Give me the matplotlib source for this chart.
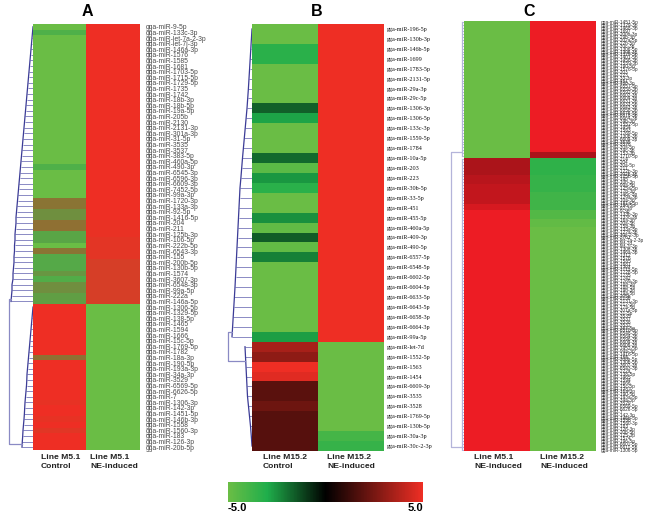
import numpy as np
import matplotlib
matplotlib.use("Agg")
import matplotlib.pyplot as plt
from matplotlib.colors import LinearSegmentedColormap, Normalize
from matplotlib.cm import ScalarMappable

plt.rcParams['font.family'] = ['Liberation Sans', 'DejaVu Sans']

W, H = 648, 516
PREFIX = "gga-miR-"

# Panel A
mirs_a = ["9-5p", "133c-3p", "let-7a-2-3p", "let-7j-3p", "146a-3p", "1576", "1585", "1681", "1703-5p", "1715-5p",
          "1729-5p", "1735", "1742", "18b-3p", "18b-5p", "19a-5p", "205b", "2130", "2131-3p", "301a-3p",
          "31-5p", "3535", "3537", "383-5p", "460a-5p", "490-3p", "6545-3p", "6596-3p", "6609-3p", "7452-5p",
          "99a-3p", "1720-3p", "133a-3p", "92-5p", "1416-5p", "204", "211", "125b-3p", "106-5p", "222b-5p",
          "6543-3p", "155", "200b-5p", "130b-5p", "1574", "3607-3p", "6548-3p", "99a-5p", "222a", "146a-5p",
          "1306-5p", "1329-5p", "138-5p", "1465", "1594", "1666", "15c-5p", "1769-5p", "1782", "18a-3p",
          "190-5p", "193a-3p", "34a-3p", "3529", "6569-5p", "6626-5p", "7", "1306-3p", "142-3p", "1451-5p",
          "146b-3p", "1558", "1560-3p", "183", "126-3p", "20b-5p"]
control_a = [-5, -4] + [-5] * 23 + [-4] + [-5] * 5 + [-1.2, -1.2, -2.5, -2.5, -1, -1, -3.5, -3.5, -5, -1.2,
             -3.7, -3.7, -3.7, -2.8, -3.8, -2.4, -2.4, -3.2, -3.2] + [5] * 9 + [-1] + [5] * 7 + [4.6, 5, 5, 4.6, 5, 4.2, 5, 5, 5]
induced_a = [5] * 35 + [4.7] * 3 + [4.3] * 4 + [3.5] * 8 + [-5] * 26
dend_a_1 = [0, .5, 1, 1.5, 2, 2.5, 3, 3.5, 4, 4.5, 5, 5.5, 6, 6.5, 7, 7.5, 8, 8.5, 9, 9.5, 10, 10.5, 11, 11.5, 12, 12.5,
            13, 13.5, 14, 14.5, 15, 15.5, 16, 16.5, 17, 17, 17.5, 18, 18, 18.5, 18.5, 19, 19, 19.5, 20, 20, 21, 21, 21.5, 22]
dend_a_2 = [0, .5, 1, 1.5, 2, 2.5, 3, 3.5, 4, 4.5, 5, 5.5, 6, 6.2, 6.5, 7, 7.5, 8, 8.3, 8.6, 9, 9.5, 10, 10.3, 10.7, 11]

# Panel B
mirs_b = ["196-5p", "130b-3p", "146b-5p", "1699", "1783-5p", "2131-5p", "29a-3p", "29c-5p", "1306-3p", "1306-5p",
          "133c-3p", "1559-5p", "1784", "10a-5p", "203", "223", "30b-5p", "33-5p", "451", "455-5p",
          "460a-5p", "409-3p", "490-5p", "6557-5p", "6548-5p", "6602-5p", "6604-5p", "6633-5p", "6643-5p", "6658-3p",
          "6664-3p", "99a-5p", "let-7d", "1552-5p", "1563", "1454", "6609-3p", "3535", "3528", "1769-5p",
          "130b-5p", "30a-3p", "30c-2-3p"]
control_b = [-5, -5, -3.3, -3.3, -5, -5, -5, -5, -1.65, -2.85, -5, -5, -5, -1.8, -4.6, -2.6, -3.3, -5, -5, -2.5,
             -4.8, -1.6, -4.8, -2.2] + [-5] * 7 + [-2.7, 3.5, 3, 5, 4.7, 1.9, 1.9, 2.3, 1.8, 1.8, 1.8, 1.8]
induced_b = [5] * 32 + [-5] * 9 + [-4, -3.6]
dend_b_1 = [0, .6, 1.2, 1.8, 2.4, 3, 3.6, 4.3, 5, 5.9, 6.8, 7.7, 8.6, 9.5, 10.3, 11.1, 12, 12.5, 13, 13.5, 14, 14.5,
            15, 15.5, 16, 16.5, 17, 17.6, 18.2, 18.8, 19.4, 20]
dend_b_2 = [7, 6.5, 6, 5.5, 5, 4.5, 3.5, 2.5, 1.5, .7, 0]

# Panel C
mirs_c = ["1451-5p", "1329-3p", "1468-3p", "1697", "200b-3p", "29b-3p", "202a-5p", "22b-5p", "30c-3p", "1306-5p",
          "1306-3p", "1329-5p", "1401-5p", "1456-3p", "1559-3p", "190-5p", "1576-3p", "203", "223", "33-3p",
          "451", "460-3p", "6557-3p", "6558-3p", "6592-5p", "6602-3p", "6604-3p", "6631-3p", "6633-5p", "6643-3p",
          "6658-3p", "6676-5p", "6678-3p", "6664-3p", "34b-3p", "1552-5p", "1454", "1563", "1769-5p", "130b-3p",
          "6609-3p", "3535", "3528", "30a-5p", "34c-3p", "153-3p", "1710-5p",
          "214", "204", "30a-5p", "211", "122b-3p", "202b-3p", "125b-5p", "145", "10b-3p", "99a-5p",
          "125a-5p", "17b-3p", "146c-3p", "129a-3p", "10a-3p", "181a-5p", "196-5p", "92-3p", "9-3p", "133b-3p",
          "133c-3p", "16a-3p", "20a-3p", "15b-3p", "133a-3p", "122a-3p", "30c-2-3p", "3761", "let-7a-2-3p", "let-7d",
          "let-7j-3p", "1306-3p", "146a-3p", "1312", "1576", "1585", "1681", "1703", "1711-5p", "1728-5p",
          "1735", "1742", "1769-3p", "18b-3p", "18b-5p", "19b-3p", "19a-5p", "205b", "2130", "2131-3p",
          "212-5p", "17a-5p", "301a-3p", "31-5p", "3535", "3537", "3538", "3532", "383-5p", "6516-5p",
          "6548-3p", "6564-3p", "6596-3p", "6609-3p", "6606-3p", "7452-5p", "99a-3p",
          "1416-5p", "155", "200b-5p", "130b-5p", "3607-3p", "6543-3p", "222a", "138-5p", "1465", "1594",
          "1666", "15c-5p", "1782", "18a-3p", "190-5p", "193a-3p", "34a-3p", "3529", "6569-5p", "6626-5p",
          "7", "142-3p", "146b-3p", "1558", "1560-3p", "183", "126-3p", "20b-5p",
          "125-3p", "1574", "196-5p", "6601-5p", "6611-5p", "1306-5p"]
line51_c = [-5] * 47 + [3.6] * 6 + [3.9] * 3 + [4.1] * 7 + [4.5] * 2 + [5] * 83
line152_c = [5] * 45 + [3.6] * 2 + [-3.4] * 6 + [-3.6] * 6 + [-3.9] * 6 + [-4.4] * 3 + [-4.8] * 3 + [-5] * 77
dend_c_1 = [2] * 47
dend_c_2 = [2] * 101

colnames_a = ["Line M5.1\nControl", "Line M5.1\nNE-induced"]
colnames_b = ["Line M15.2\nControl", "Line M15.2\nNE-induced"]
colnames_c = ["Line M5.1\nNE-induced", "Line M15.2\nNE-induced"]

# Colormaps: A is a direct green to red blend, B and C pass through black
cmap_a = LinearSegmentedColormap.from_list("a", [(0, "#6abd45"), (.1, "#4fb04a"), (.25, "#6f9040"), (.4, "#8f7033"), (1, "#ee2e24")])
cmap_b = LinearSegmentedColormap.from_list("b", [(0, "#6abd45"), (.2, "#1fae4b"), (.5, "#000000"), (1, "#ee2e24")])
cmap_c = LinearSegmentedColormap.from_list("c", [(0, "#6abd45"), (.2, "#1fae4b"), (.5, "#000000"), (1, "#ed1c24")])
norm = Normalize(-5, 5)

fig = plt.figure(figsize=(W / 100, H / 100), dpi=100)


def px_axes(x0, y0, x1, y1):
    return fig.add_axes([x0 / W, 1 - y1 / H, (x1 - x0) / W, (y1 - y0) / H])


def heat(box, col1, col2, names, cmap, font, size, pad, color):
    ax = px_axes(*box)
    ax.imshow(np.array([col1, col2]).T, cmap=cmap, norm=norm, aspect="auto", interpolation="nearest")
    ax.set_xticks([])
    ax.yaxis.tick_right()
    ax.set_yticks(range(len(names)))
    ax.set_yticklabels([PREFIX + n for n in names], fontsize=size, family=font, color=color)
    ax.tick_params(axis="y", length=0, pad=pad)
    for s in ax.spines.values():
        s.set_visible(False)
    return ax


def dendro(box, n, clusters, root, line, stem):
    # clusters: (first row, heights), root: (height, top row, top height, bottom row, bottom height)
    ax = px_axes(*box)
    ax.set_xlim(box[2] - box[0], 0)
    ax.set_ylim(n - .5, -.5)
    ax.axis("off")
    for first, heights in clusters:
        rows = np.arange(first, first + len(heights))
        ax.hlines(rows, 0, heights, color=line, lw=.7)
        ax.plot(heights, rows, color=stem, lw=.9)
    h, r0, h0, r1, h1 = root
    ax.plot([h0, h, h, h1], [r0, r0, r1, r1], color=line, lw=.9)


def col_text(x, name):
    fig.text(x / W, 1 - 454 / H, name, fontsize=6.1, fontweight="bold", color="#222222", va="top", linespacing=1.3)


# A
heat((33, 24, 140, 450), control_a, induced_a, mirs_a, cmap_a, "Liberation Sans", 4.9, 4.2, "#4a4a4a")
dendro((5, 24, 33, 450), 76, [(0, dend_a_1), (50, dend_a_2)], (24, 48.5, 22, 74.5, 11), "#8a8ac4", "#3b3b96")
fig.text(87 / W, 1 - 12 / H, "A", fontsize=11.5, fontweight="bold", ha="center", va="center")
col_text(41, colnames_a[0])
col_text(90, colnames_a[1])

# B
heat((252, 24, 383, 451), control_b, induced_b, mirs_b, cmap_b, "Liberation Serif", 4.4, 3, "#111111")
dendro((224, 24, 252, 451), 43, [(0, dend_b_1), (32, dend_b_2)], (24, 30.5, 20, 33.4, 7), "#8a8ac4", "#3b3b96")
fig.text(317 / W, 1 - 11 / H, "B", fontsize=11.5, fontweight="bold", ha="center", va="center")
col_text(263, colnames_b[0])
col_text(327, colnames_b[1])

# C
heat((464, 21, 596, 451), line51_c, line152_c, mirs_c, cmap_c, "Liberation Sans", 3.4, 3.4, "#333333")
dendro((448, 21, 464, 451), 148, [(0, dend_c_1), (47, dend_c_2)], (13, 44.5, 2, 146, 2), "#b4b4da", "#b4b4da")
fig.text(529 / W, 1 - 11 / H, "C", fontsize=11.5, fontweight="bold", ha="center", va="center")
col_text(474, colnames_c[0])
col_text(540, colnames_c[1])

# Colour key
cax = px_axes(228, 482, 423, 502)
cb = fig.colorbar(ScalarMappable(norm=norm, cmap=cmap_b), cax=cax, orientation="horizontal")
cb.set_ticks([])
cb.outline.set_visible(False)
fig.text(237 / W, 1 - 508 / H, "-5.0", fontsize=8, fontweight="bold", ha="center", va="center")
fig.text(415 / W, 1 - 508 / H, "5.0", fontsize=8, fontweight="bold", ha="center", va="center")

fig.savefig("out.png", dpi=100)
